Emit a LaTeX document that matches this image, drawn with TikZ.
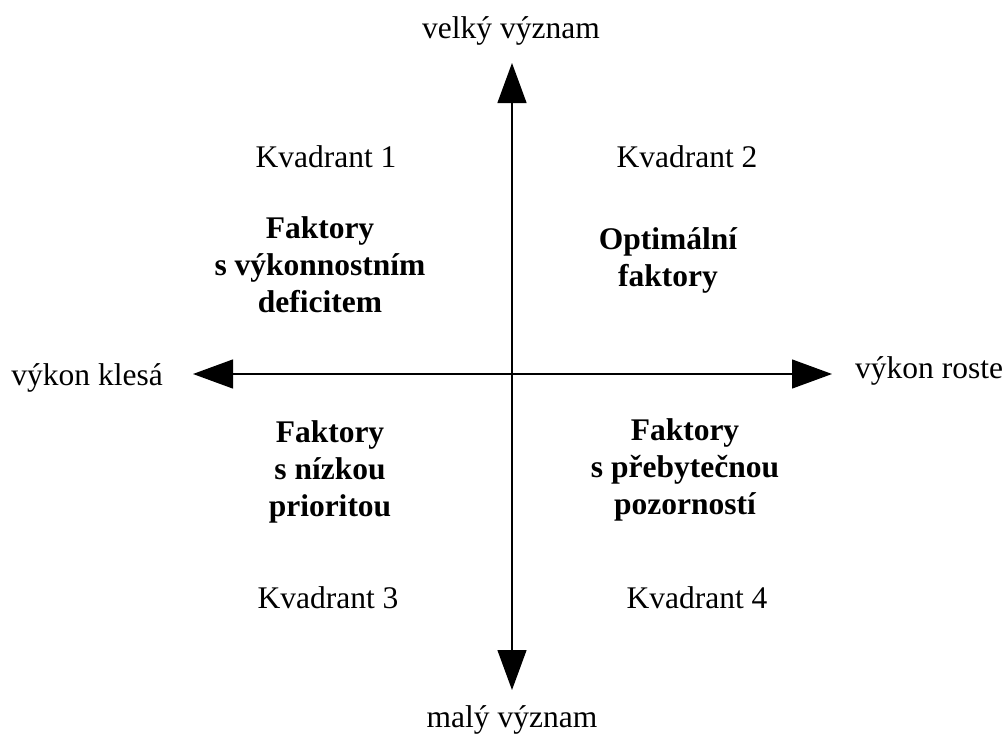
\documentclass[tikz,border=0pt]{standalone}
\usepackage{fontspec}
\setmainfont{Liberation Serif}
\usetikzlibrary{arrows.meta}

\begin{document}
\begin{tikzpicture}[x=1pt, y=-1pt, every node/.style={font=\fontsize{31.5}{33}\selectfont, inner sep=0pt}, axis/.style={line width=1.3pt, {Triangle[length=40pt, width=29pt]}-{Triangle[length=40pt, width=29pt]}}, factor/.style={font=\fontsize{31.5}{37}\selectfont\bfseries, align=center}]
	\useasboundingbox (0,0) rectangle (1005,736);
	\coordinate (top) at (512,63);
	\coordinate (bottom) at (512,690);
	\coordinate (left) at (193,374);
	\coordinate (right) at (832,374);
	\draw[axis] (bottom) -- (top);
	\draw[axis] (left) -- (right);
	\node[anchor=base] (big) at (511,38) {velký význam};
	\node[anchor=base] (small) at (512,727) {malý význam};
	\node[anchor=base east] (drop) at (163,385) {výkon klesá};
	\node[anchor=base west] (rise) at (855,378) {výkon roste};
	\node[anchor=base] (q1) at (326,167) {Kvadrant 1};
	\node[anchor=base] (q2) at (687,167) {Kvadrant 2};
	\node[anchor=base] (q3) at (328,608) {Kvadrant 3};
	\node[anchor=base] (q4) at (697,608) {Kvadrant 4};
	\node[factor] (f1) at (320,265) {Faktory\\s výkonnostním\\deficitem};
	\node[factor] (f2) at (668,260) {Optimální\\faktory};
	\node[factor] (f3) at (330,472) {Faktory\\s nízkou\\prioritou};
	\node[factor] (f4) at (685,470) {Faktory\\s přebytečnou\\pozorností};
\end{tikzpicture}
\end{document}
